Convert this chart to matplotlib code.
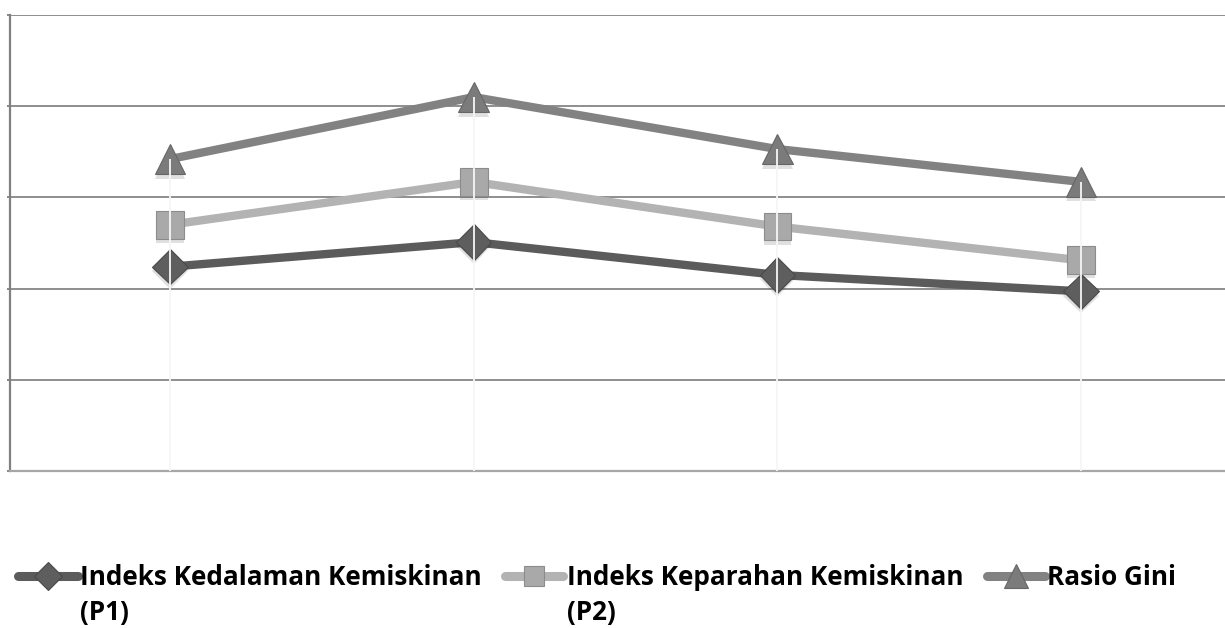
import matplotlib
matplotlib.use("Agg")
import matplotlib.pyplot as plt
import matplotlib.patheffects as pe
from matplotlib.lines import Line2D

plt.rcParams['font.family'] = ['Open Sans', 'DejaVu Sans']

# Four observation periods (unlabelled on the chart)
periods = [0, 1, 2, 3]
p1 = [2.24, 2.51, 2.15, 1.97]      # Indeks Kedalaman Kemiskinan (P1)
p2 = [2.70, 3.17, 2.68, 2.31]      # Indeks Keparahan Kemiskinan (P2)
gini = [3.42, 4.10, 3.53, 3.17]    # Rasio Gini
labels = ["Indeks Kedalaman Kemiskinan\n(P1)",
          "Indeks Keparahan Kemiskinan\n(P2)",
          "Rasio Gini"]

W, H = 1225, 628
fig = plt.figure(figsize=(W / 100, H / 100), dpi=100)
ax = fig.add_axes([10 / W, 157 / H, (W - 10) / W, 456 / H])

ax.set_xlim(-160 / 303.7, (W - 170) / 303.7)
ax.set_ylim(0, 5)
ax.set_yticks([0, 1, 2, 3, 4, 5])
ax.set_yticklabels([])
ax.set_xticks([])
ax.tick_params(axis='y', length=2.5, width=1.4, color='#868686')
ax.grid(axis='y', color='#868686', lw=1.3, zorder=0)
ax.set_axisbelow(True)
for s in ('top', 'right'):
    ax.spines[s].set_visible(False)
ax.spines['left'].set_color('#808080')
ax.spines['left'].set_linewidth(1.6)
ax.spines['bottom'].set_color('#a6a6a6')
ax.spines['bottom'].set_linewidth(1.6)

shadow = [pe.SimplePatchShadow(offset=(0, -3), shadow_rgbFace='#000000', alpha=0.12),
          pe.Normal()]

series = [
    (p1, '#5b5b5b', 'D', 18, '#4a4a4a', '#5e5e5e'),
    (p2, '#b3b3b3', 's', 20, '#8c8c8c', '#a9a9a9'),
    (gini, '#828282', '^', 22, '#666666', '#7b7b7b'),
]
for vals, lc, mk, ms, mec, mfc in series:
    ax.plot(periods, vals, color=lc, lw=6, solid_capstyle='round', zorder=3)
    ax.plot(periods, vals, ls='none', marker=mk, ms=ms, mfc=mfc, mec=mec,
            mew=0.8, zorder=4, path_effects=shadow)

# drop lines from the highest series to the category axis
ax.vlines(periods, 0, gini, color='#f6f6f6', lw=1.3, zorder=5)

# legend along the bottom: handle (line + marker) followed by label text
handle_x = [(18, 78), (505, 563), (987, 1045)]
text_x = [80, 567, 1047]
row_y = 576          # handle centre, pixels from top
base1, gap = 585, 35  # baseline of first label line and line pitch
leg_ms = [14, 15, 17]
for (vals, lc, mk, ms, mec, mfc), (x0, x1), tx, lab, lms in zip(
        series, handle_x, text_x, labels, leg_ms):
    fig.add_artist(Line2D([x0 / W, x1 / W], [1 - row_y / H] * 2,
                          transform=fig.transFigure, color=lc, lw=6.5,
                          solid_capstyle='round'))
    fig.add_artist(Line2D([(x0 + x1) / 2 / W], [1 - row_y / H],
                          transform=fig.transFigure, ls='none', marker=mk,
                          ms=lms, mfc=mfc, mec=mec, mew=0.8))
    for i, line in enumerate(lab.split("\n")):
        fig.text(tx / W, 1 - (base1 + i * gap) / H, line, ha='left',
                 va='baseline', fontsize=18.8, fontweight='bold', color='black')

fig.savefig("out.png", dpi=100)
